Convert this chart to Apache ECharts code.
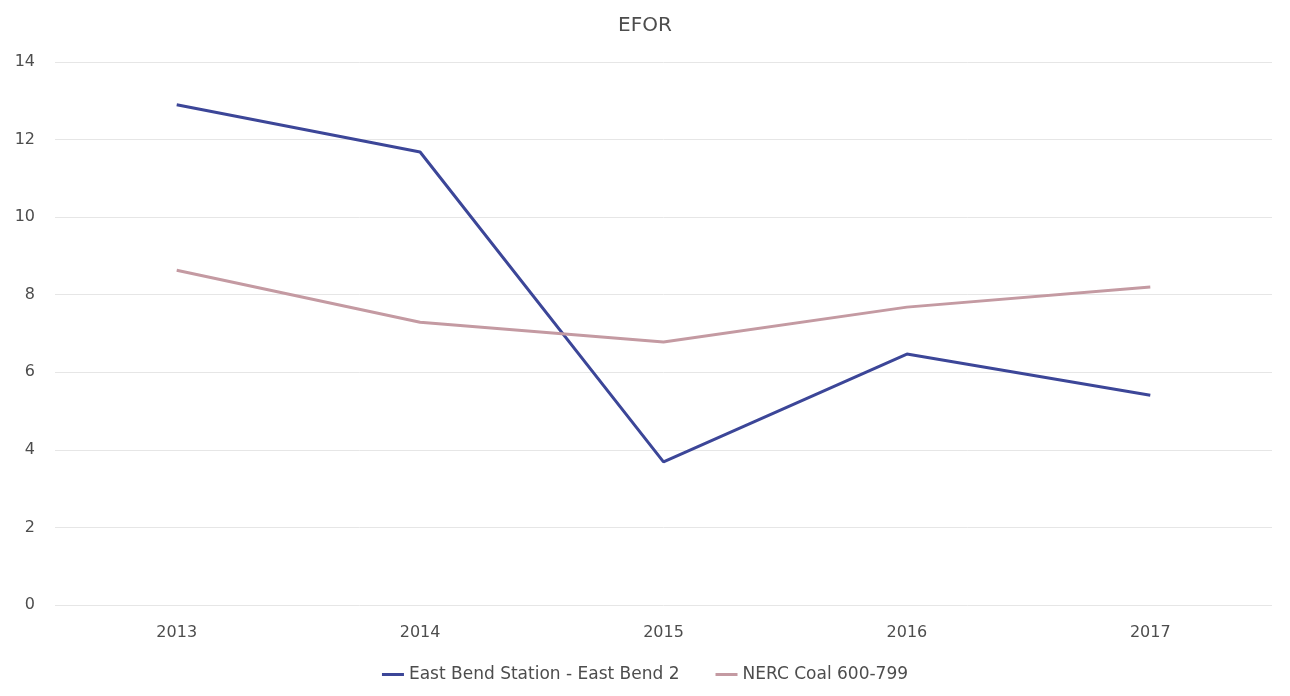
<!DOCTYPE html>
<html>
<head>
<meta charset="utf-8">
<script src="https://cdn.jsdelivr.net/npm/echarts@6/dist/echarts.min.js"></script>
<style>
  html, body { margin: 0; padding: 0; background: #ffffff; }
  #chart { width: 1290px; height: 696px; }
</style>
</head>
<body>
<div id="chart"></div>
<script>
// Equivalent forced outage rate by year
const years = ['2013', '2014', '2015', '2016', '2017'];
const eastBend = [12.9, 11.68, 3.69, 6.47, 5.41];
const nercCoal = [8.63, 7.29, 6.78, 7.68, 8.2];
const yTicks = [0, 2, 4, 6, 8, 10, 12, 14];

const textColor = '#4d4d4d';
const fontFamily = 'DejaVu Sans, sans-serif';

const chart = echarts.init(document.getElementById('chart'));
chart.setOption({
  backgroundColor: '#ffffff',
  animation: false,
  title: {
    text: 'EFOR',
    left: 'center',
    top: 11,
    textStyle: { color: textColor, fontSize: 20, fontWeight: 'normal', fontFamily }
  },
  legend: {
    bottom: 8,
    left: 'center',
    itemWidth: 22,
    itemHeight: 3,
    itemGap: 36,
    itemTextGap: 3,
    icon: 'rect',
    textStyle: { color: textColor, fontSize: 17, fontFamily },
    data: ['East Bend Station - East Bend 2', 'NERC Coal 600-799']
  },
  grid: { left: 55, right: 18, top: 62, bottom: 91, containLabel: false },
  xAxis: {
    type: 'category',
    data: years,
    boundaryGap: true,
    axisLine: { show: false },
    axisTick: { show: false },
    axisLabel: { color: textColor, fontSize: 16, margin: 20, fontFamily }
  },
  yAxis: {
    type: 'value',
    min: yTicks[0],
    max: yTicks[yTicks.length - 1],
    interval: 2,
    axisLine: { show: false },
    axisTick: { show: false },
    splitLine: { lineStyle: { color: '#e6e6e6', width: 1 } },
    axisLabel: { color: textColor, fontSize: 16, margin: 20, fontFamily }
  },
  series: [
    {
      name: 'East Bend Station - East Bend 2',
      type: 'line',
      data: eastBend,
      symbol: 'none',
      lineStyle: { color: '#3c4698', width: 3 },
      itemStyle: { color: '#3c4698' }
    },
    {
      name: 'NERC Coal 600-799',
      type: 'line',
      data: nercCoal,
      symbol: 'none',
      lineStyle: { color: '#c49aa2', width: 3 },
      itemStyle: { color: '#c49aa2' }
    }
  ]
});
</script>
</body>
</html>
